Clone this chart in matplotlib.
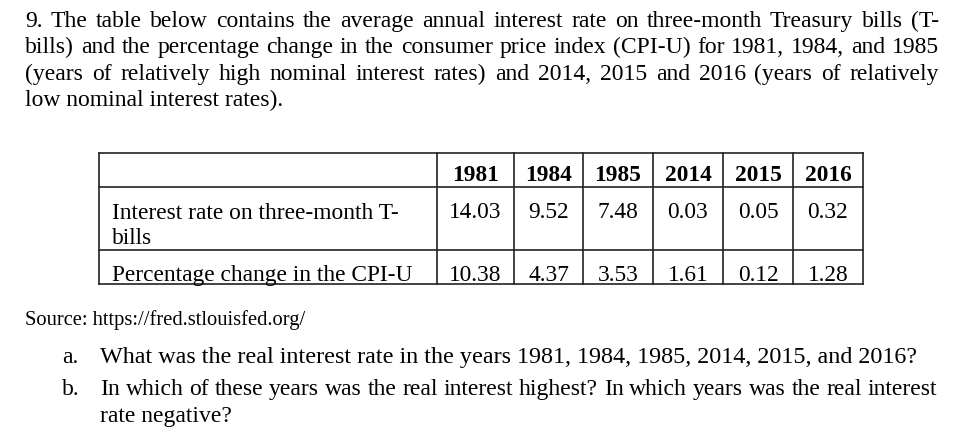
import matplotlib
matplotlib.use("Agg")
import matplotlib.pyplot as plt

# table data
years = ["1981", "1984", "1985", "2014", "2015", "2016"]
tbill_rate = ["14.03", "9.52", "7.48", "0.03", "0.05", "0.32"]
cpi_change = ["10.38", "4.37", "3.53", "1.61", "0.12", "1.28"]
row_label_1 = ["Interest rate on three-month T-", "bills"]
row_label_2 = "Percentage change in the CPI-U"

intro_lines = [
    "9. The table below contains the average annual interest rate on three-month Treasury bills  (T-",
    "bills) and the percentage change in the consumer price index (CPI-U) for 1981, 1984, and 1985",
    "(years of relatively high nominal interest rates) and 2014, 2015 and 2016 (years of relatively",
    "low nominal interest rates).",
]
source_text = "Source: https://fred.stlouisfed.org/"
question_a = "What was the real interest rate in the years 1981, 1984, 1985, 2014, 2015, and 2016?"
question_b = [
    "In which of these years was the real interest highest?  In which years was the real interest",
    "rate negative?",
]

# layout (pixels, y down)
W, H = 957, 436
col_edges = [99, 437, 514, 583, 653, 723, 793, 863]
row_edges = [153, 187, 250, 284]
FONT = "Liberation Serif"

fig = plt.figure(figsize=(W / 100, H / 100), dpi=100)
ax = fig.add_axes([0, 0, 1, 1])
ax.set_xlim(0, W)
ax.set_ylim(H, 0)
ax.axis("off")
renderer = fig.canvas.get_renderer()


def text_width(s, size, weight="normal"):
    t = ax.text(0, 0, s, fontsize=size, family=FONT, fontweight=weight)
    w = t.get_window_extent(renderer).width
    t.remove()
    return w


def min_gap(line, x0, x1, size):
    words = line.split()
    widths = [text_width(w, size) for w in words]
    space = text_width("a a", size) - text_width("aa", size)
    return (x1 - x0 - sum(widths)) / (len(words) - 1) / space


def justify(line, x0, x1, y, size):
    words = line.split()
    widths = [text_width(w, size) for w in words]
    gap = (x1 - x0 - sum(widths)) / max(len(words) - 1, 1)
    x = x0
    for w, wd in zip(words, widths):
        ax.text(x, y, w, fontsize=size, family=FONT, va="baseline", ha="left")
        x += wd + gap


# largest size where justified lines still keep a reasonable word gap
size = 17.0
while size > 10:
    g = min([min_gap(l, 25, 939, size) for l in intro_lines[:3]]
            + [min_gap(question_b[0], 100, 937, size)])
    if g >= 0.75:
        break
    size -= 0.25

# intro paragraph
baselines = [27, 53, 80, 106]
for i, line in enumerate(intro_lines):
    if i < 3:
        justify(line, 25, 939, baselines[i], size)
    else:
        ax.text(25, baselines[i], line, fontsize=size, family=FONT, va="baseline")

# table grid
for y in row_edges:
    ax.plot([col_edges[0], col_edges[-1]], [y, y], color="#222222", lw=1.2, zorder=3,
            solid_capstyle="projecting")
for x in col_edges:
    ax.plot([x, x], [row_edges[0], row_edges[-1]], color="#222222", lw=1.2, zorder=3,
            solid_capstyle="projecting")

tsize = size * 0.99
centers = [(col_edges[i] + col_edges[i + 1]) / 2 for i in range(1, len(col_edges) - 1)]
for cx, yr, r1, r2 in zip(centers, years, tbill_rate, cpi_change):
    ax.text(cx, 181, yr, fontsize=tsize, family=FONT, fontweight="bold", ha="center", va="baseline")
    ax.text(cx, 218, r1, fontsize=tsize, family=FONT, ha="center", va="baseline")
    ax.text(cx, 281, r2, fontsize=tsize, family=FONT, ha="center", va="baseline")

ax.text(112, 219, row_label_1[0], fontsize=tsize, family=FONT, va="baseline")
ax.text(112, 244, row_label_1[1], fontsize=tsize, family=FONT, va="baseline")
ax.text(112, 281, row_label_2, fontsize=tsize, family=FONT, va="baseline")

# source and questions
ax.text(25, 325, source_text, fontsize=(size - 1.0) * 0.92, family=FONT, va="baseline")
ax.text(62, 363, "a.", fontsize=size, family=FONT, va="baseline")
ax.text(100, 363, question_a, fontsize=size * 1.02, family=FONT, va="baseline")
ax.text(62, 395, "b.", fontsize=size, family=FONT, va="baseline")
justify(question_b[0], 100, 937, 395, size)
ax.text(100, 422, question_b[1], fontsize=size, family=FONT, va="baseline")

fig.savefig("out.png", dpi=100, facecolor="white")
